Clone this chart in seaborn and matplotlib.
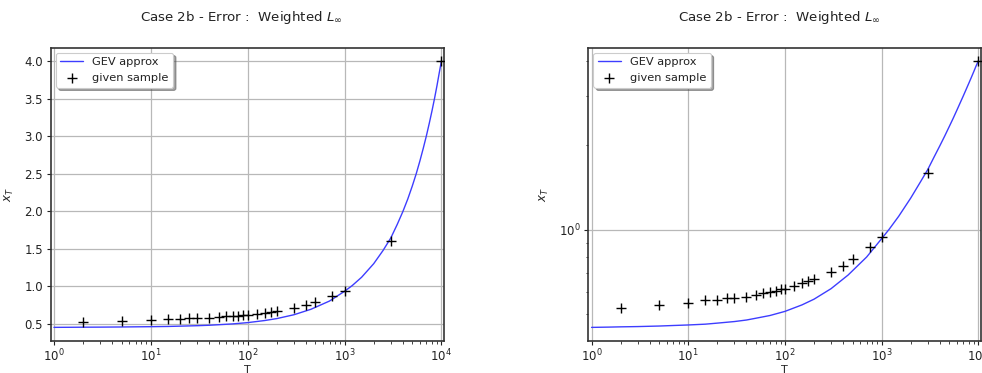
import numpy as np
import pandas as pd
import matplotlib
matplotlib.use("Agg")
import matplotlib.pyplot as plt
from matplotlib.ticker import LogLocator, NullFormatter
import seaborn as sns

# Return periods and observed values of the sample
sample_T = [2, 5, 10, 15, 20, 25, 30, 40, 50, 60, 70, 80, 90, 100,
            125, 150, 175, 200, 300, 400, 500, 750, 1000, 3000, 10000]
sample_x = [0.527, 0.540, 0.550, 0.560, 0.561, 0.570, 0.571, 0.578, 0.588,
            0.597, 0.598, 0.606, 0.614, 0.616, 0.630, 0.645, 0.656, 0.668,
            0.708, 0.743, 0.790, 0.870, 0.940, 1.600, 4.000]

# Fitted GEV return-level curve
curve_T = [1, 1.5, 2, 3, 5, 7, 10, 15, 20, 30, 40, 50, 70, 100, 150, 200,
           300, 450, 700, 1000, 1200, 1500, 2000, 2500, 3000, 3500, 4000,
           4500, 5000, 5500, 6000, 6500, 7000, 7500, 8000, 8500, 9000, 9500,
           10000]
curve_x = [0.449, 0.450, 0.451, 0.452, 0.454, 0.456, 0.458, 0.461, 0.465,
           0.471, 0.477, 0.484, 0.495, 0.512, 0.540, 0.566, 0.617, 0.690,
           0.800, 0.930, 1.006, 1.117, 1.298, 1.475, 1.640, 1.822, 1.993,
           2.162, 2.332, 2.499, 2.669, 2.838, 3.004, 3.172, 3.338, 3.504,
           3.672, 3.843, 4.000]

title = r"Case 2b - Error :  Weighted $L_\infty$"

sns.set_style("ticks")
plt.rcParams.update({
    "font.family": ["DejaVu Sans"],
    "font.size": 8.5,
    "text.color": "#222222",
    "axes.labelcolor": "#222222",
    "xtick.color": "#222222",
    "ytick.color": "#222222",
    "axes.edgecolor": "#333333",
    "axes.linewidth": 1.2,
    "xtick.direction": "out",
    "ytick.direction": "out",
    "xtick.major.size": 3.0,
    "ytick.major.size": 3.0,
    "xtick.minor.size": 1.8,
    "ytick.minor.size": 1.8,
    "xtick.major.width": 0.8,
    "ytick.major.width": 0.8,
    "xtick.minor.width": 0.6,
    "ytick.minor.width": 0.6,
    "xtick.major.pad": 1.8,
    "ytick.major.pad": 2.5,
    "mathtext.fontset": "dejavusans",
})

curve_df = pd.DataFrame({"T": curve_T, "x": curve_x})
sample_df = pd.DataFrame({"T": sample_T, "x": sample_x})

fig = plt.figure(figsize=(9.82, 3.73), dpi=100)
ax1 = fig.add_axes([0.0516, 0.0866, 0.4008, 0.7855])
ax2 = fig.add_axes([0.5991, 0.0866, 0.4000, 0.7855])

for ax, logy in ((ax1, False), (ax2, True)):
    sns.lineplot(data=curve_df, x="T", y="x", ax=ax, color="#3d3dff",
                 linewidth=1.0, sort=False, estimator=None,
                 label="GEV approx", zorder=3)
    sns.scatterplot(data=sample_df, x="T", y="x", ax=ax, marker="+",
                    color="black", s=46, linewidth=1.0,
                    label="given sample", zorder=4)
    ax.set_xscale("log")
    ax.set_xlim(0.925, 10700)
    ax.xaxis.set_major_locator(LogLocator(base=10, numticks=10))
    ax.xaxis.set_minor_locator(LogLocator(base=10, subs=np.arange(2, 10), numticks=20))
    ax.xaxis.set_minor_formatter(NullFormatter())
    if logy:
        ax.set_yscale("log")
        ax.set_ylim(0.4025, 4.462)
        ax.yaxis.set_minor_formatter(NullFormatter())
    else:
        ax.set_ylim(0.271, 4.178)
        ax.set_yticks([0.5, 1.0, 1.5, 2.0, 2.5, 3.0, 3.5, 4.0])
    ax.grid(True, which="major", color="#b8b8b8", linewidth=0.9)
    ax.set_axisbelow(True)
    ax.set_xlabel("T", labelpad=0.5, fontsize=8)
    ax.set_ylabel(r"$x_T$", labelpad=6)
    ax.set_title(title, pad=19.5, fontsize=9.6, x=0.485)
    leg = ax.legend(loc="upper left", fontsize=8.2, fancybox=True,
                    shadow=True, framealpha=1.0, borderpad=0.4,
                    handlelength=2.0, borderaxespad=0.45)
    leg.get_frame().set_edgecolor("#cccccc")
    leg.get_frame().set_linewidth(0.8)
    for sp in ax.spines.values():
        sp.set_visible(True)

fig.savefig("out.png", dpi=100, facecolor="white")
